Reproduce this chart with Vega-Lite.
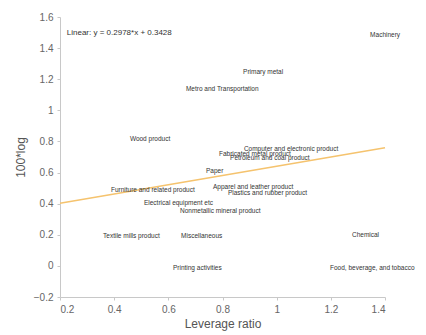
{
  "$schema": "https://vega.github.io/schema/vega-lite/v6.json",
  "width": 325,
  "height": 280,
  "autosize": "none",
  "padding": {"left": 60, "top": 17, "right": 41, "bottom": 38},
  "background": "white",
  "config": {
    "font": "Liberation Sans",
    "view": {"stroke": null},
    "axis": {
      "grid": false,
      "domainColor": "#c8c8c8",
      "tickColor": "#c8c8c8",
      "tickSize": 3,
      "labelColor": "#666666",
      "labelFontSize": 10,
      "labelOverlap": false,
      "titleColor": "#555555",
      "titleFontSize": 12,
      "titleFontWeight": "normal"
    }
  },
  "datasets": {
    "pts": [
      {"name": "Machinery", "lev": 1.345, "val": 1.484},
      {"name": "Primary metal", "lev": 0.876, "val": 1.246},
      {"name": "Metro and Transportation", "lev": 0.665, "val": 1.137},
      {"name": "Wood product", "lev": 0.458, "val": 0.816},
      {"name": "Computer and electronic product", "lev": 0.879, "val": 0.751},
      {"name": "Fabricated metal product", "lev": 0.787, "val": 0.719},
      {"name": "Petroleum and coal product", "lev": 0.828, "val": 0.694},
      {"name": "Paper", "lev": 0.739, "val": 0.61},
      {"name": "Apparel and leather product", "lev": 0.765, "val": 0.507},
      {"name": "Furniture and related product", "lev": 0.388, "val": 0.488},
      {"name": "Plastics and rubber product", "lev": 0.82, "val": 0.469},
      {"name": "Electrical equipment etc", "lev": 0.51, "val": 0.404},
      {"name": "Nonmetallic mineral product", "lev": 0.643, "val": 0.353},
      {"name": "Textile mills product", "lev": 0.359, "val": 0.192},
      {"name": "Miscellaneous", "lev": 0.647, "val": 0.192},
      {"name": "Chemical", "lev": 1.278, "val": 0.199},
      {"name": "Printing activities", "lev": 0.617, "val": -0.014},
      {"name": "Food, beverage, and tobacco", "lev": 1.197, "val": -0.014}
    ],
    "fit": [
      {"lev": 0.2, "val": 0.4024},
      {"lev": 1.4, "val": 0.7597}
    ],
    "note": [
      {"label": "Linear:  y = 0.2978*x + 0.3428", "lev": 0.225, "val": 1.5}
    ]
  },
  "encoding": {
    "x": {
      "field": "lev", "type": "quantitative",
      "scale": {"domain": [0.2, 1.4], "nice": false, "zero": false},
      "axis": {"title": "Leverage ratio", "format": "~g", "values": [0.2, 0.4, 0.6, 0.8, 1, 1.2, 1.4], "labelOverlap": false, "labelPadding": 4, "titlePadding": 4}
    },
    "y": {
      "field": "val", "type": "quantitative",
      "scale": {"domain": [-0.2, 1.6], "nice": false, "zero": false},
      "axis": {"title": "100*log", "format": "~g", "values": [-0.2, 0, 0.2, 0.4, 0.6, 0.8, 1, 1.2, 1.4, 1.6], "labelOverlap": false, "labelPadding": 4, "titlePadding": 6}
    }
  },
  "layer": [
    {
      "data": {"name": "fit"},
      "mark": {"type": "line", "color": "#f5c36e", "strokeWidth": 1.5}
    },
    {
      "data": {"name": "pts"},
      "mark": {"type": "text", "align": "left", "baseline": "middle", "fontSize": 6.5, "color": "#333333"},
      "encoding": {
        "text": {"field": "name"}
      }
    },
    {
      "data": {"name": "note"},
      "mark": {"type": "text", "align": "left", "baseline": "middle", "fontSize": 8, "color": "#333333"},
      "encoding": {
        "text": {"field": "label"}
      }
    }
  ]
}
